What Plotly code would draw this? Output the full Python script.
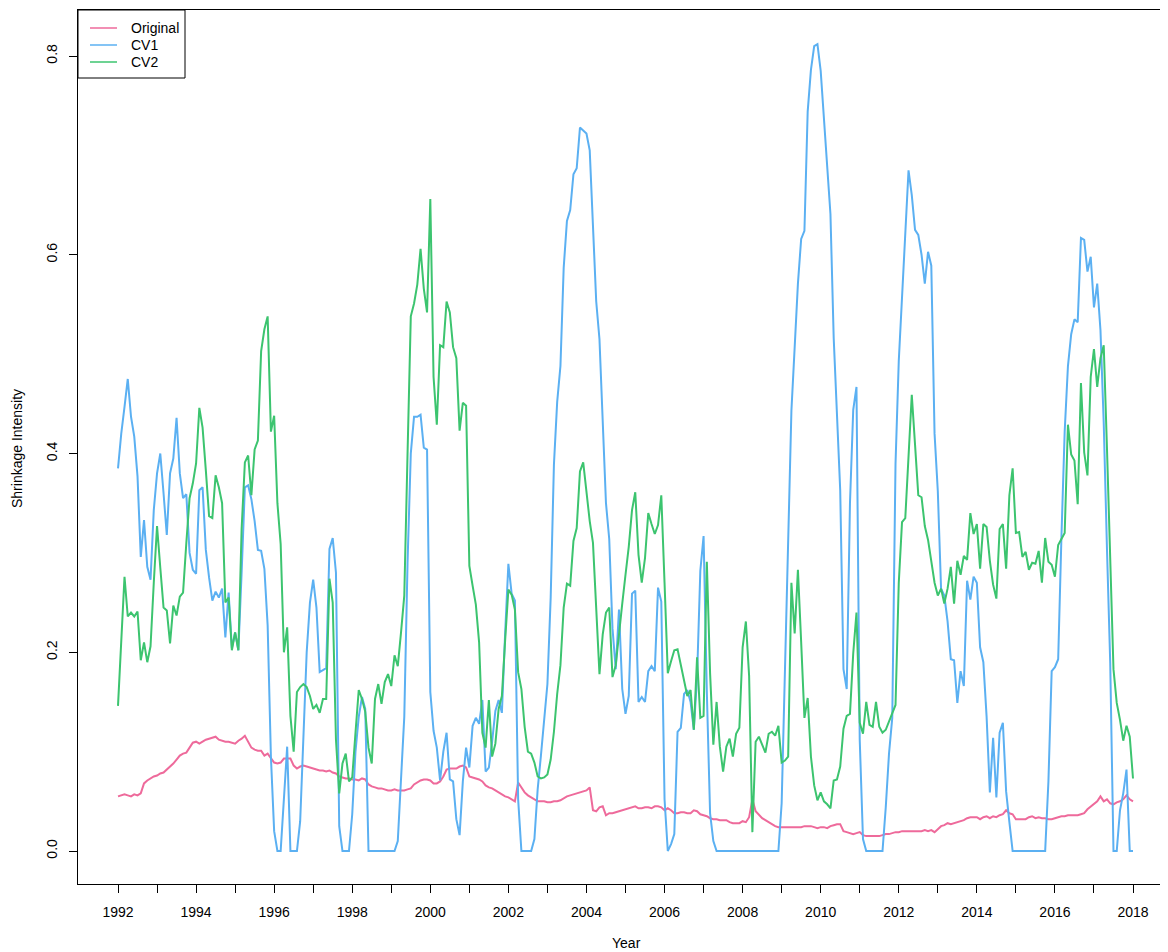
import plotly.graph_objects as go

# Monthly values, Jan 1992 .. Jan 2018 (one row per year)
original = [
    0.055, 0.056, 0.057, 0.056, 0.055, 0.057, 0.056, 0.058, 0.068, 0.071, 0.073, 0.075,
    0.076, 0.078, 0.079, 0.082, 0.085, 0.088, 0.092, 0.096, 0.098, 0.099, 0.104, 0.109,
    0.110, 0.108, 0.110, 0.112, 0.113, 0.114, 0.115, 0.112, 0.111, 0.110, 0.110, 0.109,
    0.108, 0.111, 0.113, 0.116, 0.110, 0.104, 0.102, 0.101, 0.101, 0.096, 0.098, 0.094,
    0.089, 0.088, 0.089, 0.093, 0.093, 0.093, 0.086, 0.083, 0.085, 0.086, 0.085, 0.084,
    0.083, 0.082, 0.081, 0.081, 0.080, 0.081, 0.079, 0.078, 0.075, 0.074, 0.073, 0.073,
    0.072, 0.072, 0.071, 0.073, 0.072, 0.067, 0.065, 0.064, 0.063, 0.063, 0.062, 0.061,
    0.061, 0.062, 0.061, 0.061, 0.061, 0.062, 0.063, 0.067, 0.069, 0.071, 0.072, 0.072,
    0.071, 0.068, 0.068, 0.070, 0.075, 0.082, 0.083, 0.083, 0.083, 0.085, 0.086, 0.084,
    0.075, 0.074, 0.073, 0.072, 0.070, 0.066, 0.064, 0.063, 0.061, 0.059, 0.057, 0.055,
    0.054, 0.052, 0.050, 0.069, 0.064, 0.059, 0.056, 0.054, 0.052, 0.050, 0.050, 0.050,
    0.049, 0.049, 0.050, 0.050, 0.051, 0.053, 0.055, 0.056, 0.057, 0.058, 0.059, 0.060,
    0.061, 0.064, 0.041, 0.040, 0.044, 0.045, 0.036, 0.038, 0.038, 0.039, 0.040, 0.041,
    0.042, 0.043, 0.044, 0.045, 0.043, 0.043, 0.044, 0.044, 0.043, 0.045, 0.045, 0.044,
    0.041, 0.043, 0.041, 0.038, 0.038, 0.039, 0.039, 0.038, 0.038, 0.041, 0.040, 0.037,
    0.036, 0.035, 0.033, 0.032, 0.032, 0.031, 0.031, 0.031, 0.029, 0.028, 0.028, 0.028,
    0.030, 0.029, 0.034, 0.052, 0.040, 0.036, 0.033, 0.031, 0.029, 0.027, 0.025, 0.024,
    0.024, 0.024, 0.024, 0.024, 0.024, 0.024, 0.024, 0.025, 0.025, 0.025, 0.024, 0.023,
    0.024, 0.024, 0.023, 0.025, 0.026, 0.027, 0.027, 0.020, 0.019, 0.018, 0.017, 0.018,
    0.019, 0.016, 0.015, 0.015, 0.015, 0.015, 0.015, 0.016, 0.017, 0.017, 0.018, 0.019,
    0.019, 0.020, 0.020, 0.020, 0.020, 0.020, 0.020, 0.020, 0.021, 0.020, 0.021, 0.019,
    0.022, 0.025, 0.026, 0.028, 0.027, 0.028, 0.029, 0.030, 0.031, 0.033, 0.034, 0.034,
    0.034, 0.032, 0.034, 0.035, 0.033, 0.035, 0.034, 0.036, 0.037, 0.041, 0.038, 0.037,
    0.032, 0.032, 0.032, 0.032, 0.034, 0.035, 0.033, 0.034, 0.033, 0.033, 0.032, 0.032,
    0.033, 0.034, 0.035, 0.035, 0.036, 0.036, 0.036, 0.036, 0.037, 0.038, 0.042, 0.045,
    0.047, 0.050, 0.055, 0.050, 0.052, 0.048, 0.047, 0.049, 0.050, 0.052, 0.056, 0.052,
    0.050,
]

cv1 = [
    0.385, 0.420, 0.447, 0.475, 0.437, 0.417, 0.377, 0.296, 0.333, 0.286, 0.273, 0.343,
    0.380, 0.400, 0.360, 0.318, 0.380, 0.395, 0.436, 0.380, 0.355, 0.359, 0.300, 0.283,
    0.279, 0.363, 0.366, 0.303, 0.275, 0.252, 0.261, 0.255, 0.264, 0.215, 0.260, 0.204,
    0.220, 0.202, 0.280, 0.366, 0.368, 0.354, 0.332, 0.303, 0.302, 0.284, 0.227, 0.095,
    0.020, 0.000, 0.000, 0.050, 0.105, 0.000, 0.000, 0.000, 0.030, 0.120, 0.200, 0.250,
    0.273, 0.245, 0.180, 0.182, 0.184, 0.304, 0.315, 0.280, 0.025, 0.000, 0.000, 0.000,
    0.037, 0.100, 0.135, 0.155, 0.143, 0.000, 0.000, 0.000, 0.000, 0.000, 0.000, 0.000,
    0.000, 0.000, 0.010, 0.080, 0.135, 0.290, 0.400, 0.437, 0.437, 0.439, 0.406, 0.404,
    0.160, 0.121, 0.104, 0.071, 0.100, 0.119, 0.072, 0.070, 0.032, 0.016, 0.070, 0.104,
    0.084, 0.126, 0.134, 0.128, 0.152, 0.080, 0.084, 0.110, 0.141, 0.152, 0.139, 0.219,
    0.289, 0.259, 0.252, 0.052, 0.000, 0.000, 0.000, 0.000, 0.012, 0.062, 0.096, 0.130,
    0.168, 0.255, 0.389, 0.452, 0.488, 0.587, 0.634, 0.645, 0.681, 0.687, 0.728, 0.725,
    0.722, 0.705, 0.635, 0.553, 0.515, 0.433, 0.350, 0.314, 0.224, 0.183, 0.243, 0.163,
    0.138, 0.156, 0.259, 0.262, 0.150, 0.155, 0.150, 0.181, 0.186, 0.181, 0.265, 0.251,
    0.052, 0.000, 0.007, 0.017, 0.120, 0.124, 0.158, 0.162, 0.150, 0.122, 0.175, 0.282,
    0.317, 0.160, 0.038, 0.010, 0.000, 0.000, 0.000, 0.000, 0.000, 0.000, 0.000, 0.000,
    0.000, 0.000, 0.000, 0.000, 0.000, 0.000, 0.000, 0.000, 0.000, 0.000, 0.000, 0.000,
    0.048, 0.187, 0.320, 0.443, 0.507, 0.571, 0.616, 0.624, 0.744, 0.786, 0.810, 0.812,
    0.785, 0.740, 0.690, 0.641, 0.516, 0.444, 0.363, 0.183, 0.163, 0.350, 0.444, 0.467,
    0.112, 0.012, 0.000, 0.000, 0.000, 0.000, 0.000, 0.000, 0.044, 0.098, 0.134, 0.390,
    0.493, 0.560, 0.628, 0.685, 0.660, 0.625, 0.620, 0.600, 0.571, 0.603, 0.589, 0.420,
    0.362, 0.264, 0.257, 0.231, 0.193, 0.192, 0.149, 0.181, 0.166, 0.272, 0.253, 0.276,
    0.270, 0.205, 0.190, 0.135, 0.059, 0.114, 0.054, 0.119, 0.129, 0.060, 0.029, 0.000,
    0.000, 0.000, 0.000, 0.000, 0.000, 0.000, 0.000, 0.000, 0.000, 0.000, 0.070, 0.181,
    0.185, 0.193, 0.316, 0.422, 0.488, 0.520, 0.535, 0.532, 0.617, 0.615, 0.583, 0.598,
    0.547, 0.571, 0.524, 0.431, 0.304, 0.189, 0.000, 0.000, 0.041, 0.058, 0.082, 0.000,
    0.000,
]

cv2 = [
    0.146, 0.210, 0.276, 0.236, 0.240, 0.236, 0.241, 0.192, 0.210, 0.190, 0.206, 0.270,
    0.327, 0.285, 0.245, 0.242, 0.209, 0.247, 0.237, 0.256, 0.260, 0.310, 0.355, 0.370,
    0.390, 0.446, 0.426, 0.383, 0.337, 0.335, 0.378, 0.366, 0.350, 0.250, 0.255, 0.202,
    0.220, 0.202, 0.324, 0.391, 0.398, 0.358, 0.404, 0.413, 0.503, 0.525, 0.538, 0.422,
    0.438, 0.350, 0.309, 0.200, 0.225, 0.136, 0.100, 0.160, 0.165, 0.168, 0.165, 0.156,
    0.143, 0.147, 0.139, 0.153, 0.153, 0.274, 0.250, 0.112, 0.058, 0.088, 0.098, 0.070,
    0.074, 0.119, 0.162, 0.153, 0.140, 0.104, 0.088, 0.153, 0.168, 0.148, 0.170, 0.178,
    0.166, 0.197, 0.186, 0.220, 0.257, 0.400, 0.538, 0.551, 0.570, 0.606, 0.566, 0.542,
    0.656, 0.477, 0.429, 0.509, 0.507, 0.553, 0.542, 0.507, 0.496, 0.423, 0.451, 0.448,
    0.287, 0.267, 0.248, 0.210, 0.119, 0.104, 0.152, 0.095, 0.108, 0.143, 0.156, 0.212,
    0.263, 0.258, 0.243, 0.180, 0.163, 0.125, 0.100, 0.098, 0.089, 0.075, 0.073, 0.074,
    0.077, 0.092, 0.120, 0.158, 0.187, 0.245, 0.269, 0.267, 0.312, 0.325, 0.382, 0.391,
    0.361, 0.332, 0.310, 0.240, 0.178, 0.218, 0.240, 0.245, 0.175, 0.187, 0.215, 0.249,
    0.278, 0.306, 0.343, 0.361, 0.298, 0.270, 0.295, 0.340, 0.329, 0.319, 0.328, 0.358,
    0.270, 0.179, 0.191, 0.202, 0.203, 0.188, 0.171, 0.156, 0.162, 0.122, 0.195, 0.134,
    0.136, 0.291, 0.179, 0.107, 0.150, 0.105, 0.080, 0.105, 0.113, 0.095, 0.118, 0.124,
    0.205, 0.231, 0.176, 0.019, 0.110, 0.115, 0.107, 0.099, 0.118, 0.120, 0.116, 0.126,
    0.089, 0.091, 0.095, 0.270, 0.219, 0.283, 0.210, 0.134, 0.154, 0.095, 0.066, 0.051,
    0.059, 0.050, 0.047, 0.043, 0.071, 0.072, 0.085, 0.123, 0.136, 0.138, 0.199, 0.240,
    0.129, 0.118, 0.150, 0.127, 0.125, 0.150, 0.125, 0.119, 0.122, 0.130, 0.138, 0.147,
    0.270, 0.331, 0.335, 0.403, 0.459, 0.409, 0.358, 0.356, 0.327, 0.313, 0.292, 0.270,
    0.257, 0.264, 0.249, 0.264, 0.286, 0.249, 0.292, 0.278, 0.297, 0.293, 0.340, 0.319,
    0.329, 0.284, 0.329, 0.326, 0.292, 0.268, 0.254, 0.324, 0.329, 0.284, 0.358, 0.385,
    0.320, 0.321, 0.296, 0.301, 0.283, 0.290, 0.289, 0.302, 0.270, 0.315, 0.291, 0.288,
    0.276, 0.308, 0.314, 0.320, 0.429, 0.399, 0.393, 0.349, 0.471, 0.401, 0.378, 0.477,
    0.505, 0.467, 0.496, 0.509, 0.405, 0.287, 0.183, 0.149, 0.132, 0.111, 0.126, 0.115,
    0.073,
]

series_names = ["Original", "CV1", "CV2"]
series_colors = ["#EE6A9B", "#5BB0F2", "#3CC46F"]

start_year = 1992
year_ticks = list(range(1992, 2019))
year_labels = [str(y) if y % 2 == 0 else "" for y in year_ticks]
y_ticks = [0.0, 0.2, 0.4, 0.6, 0.8]
y_labels = ["0.0", "0.2", "0.4", "0.6", "0.8"]

t = [start_year + i / 12 for i in range(len(original))]

FONT = "Liberation Sans, Arial, Helvetica, sans-serif"

fig = go.Figure()
for name, vals, col in zip(series_names, [original, cv1, cv2], series_colors):
    fig.add_trace(go.Scatter(x=t, y=vals, mode="lines", name=name,
                             line=dict(color=col, width=2)))

# page body has an 8px margin; figure is laid out so window pixels match
OFF = 8
W, H = 1160, 944
L, R, T, B = 70, 0, 2, 68
pw, ph = W - L - R, H - T - B


def px(xwin):
    return (xwin - OFF - L) / pw


def py(ywin):
    return (H - B - (ywin - OFF)) / ph


fig.update_layout(
    width=W, height=H,
    margin=dict(l=L, r=R, t=T, b=B, pad=0),
    plot_bgcolor="white", paper_bgcolor="white",
    showlegend=False,
    font=dict(family=FONT, size=14, color="black"),
)

fig.update_xaxes(
    range=[1990.9754, 2018.8965],
    tickmode="array", tickvals=year_ticks, ticktext=year_labels,
    ticks="outside", ticklen=8, tickwidth=1, tickcolor="black",
    showline=True, linecolor="black", linewidth=1, mirror=True,
    showgrid=False, zeroline=False,
    tickfont=dict(family=FONT, size=14, color="black"),
    ticklabelstandoff=7,
)
fig.update_yaxes(
    range=[-0.0332, 0.8463],
    tickmode="array", tickvals=y_ticks, ticktext=y_labels,
    tickangle=-90,
    ticks="outside", ticklen=8, tickwidth=1, tickcolor="black",
    showline=True, linecolor="black", linewidth=1, mirror=False,
    showgrid=False, zeroline=False,
    tickfont=dict(family=FONT, size=14, color="black"),
    ticklabelstandoff=6,
)

annotations = [
    dict(text="Year", x=px(626), y=py(943), xref="paper", yref="paper",
         showarrow=False, xanchor="center", yanchor="middle",
         font=dict(family=FONT, size=14, color="black")),
    dict(text="Shrinkage Intensity", x=px(17), y=py(449), xref="paper", yref="paper",
         showarrow=False, xanchor="center", yanchor="middle", textangle=-90,
         font=dict(family=FONT, size=14, color="black")),
]

shapes = [
    dict(type="rect", xref="paper", yref="paper",
         x0=px(78), x1=px(185), y0=py(78), y1=py(10),
         line=dict(color="black", width=1), fillcolor="white", layer="above"),
]
legend_rows = [28, 45, 62]
for name, col, yrow in zip(series_names, series_colors, legend_rows):
    shapes.append(dict(type="line", xref="paper", yref="paper",
                       x0=px(90), x1=px(117), y0=py(yrow), y1=py(yrow),
                       line=dict(color=col, width=1.5), layer="above"))
    annotations.append(dict(text=name, x=px(129), y=py(yrow), xref="paper", yref="paper",
                            showarrow=False, xanchor="left", yanchor="middle",
                            font=dict(family=FONT, size=14, color="black")))

fig.update_layout(shapes=shapes, annotations=annotations)

fig.write_html("out.html")
